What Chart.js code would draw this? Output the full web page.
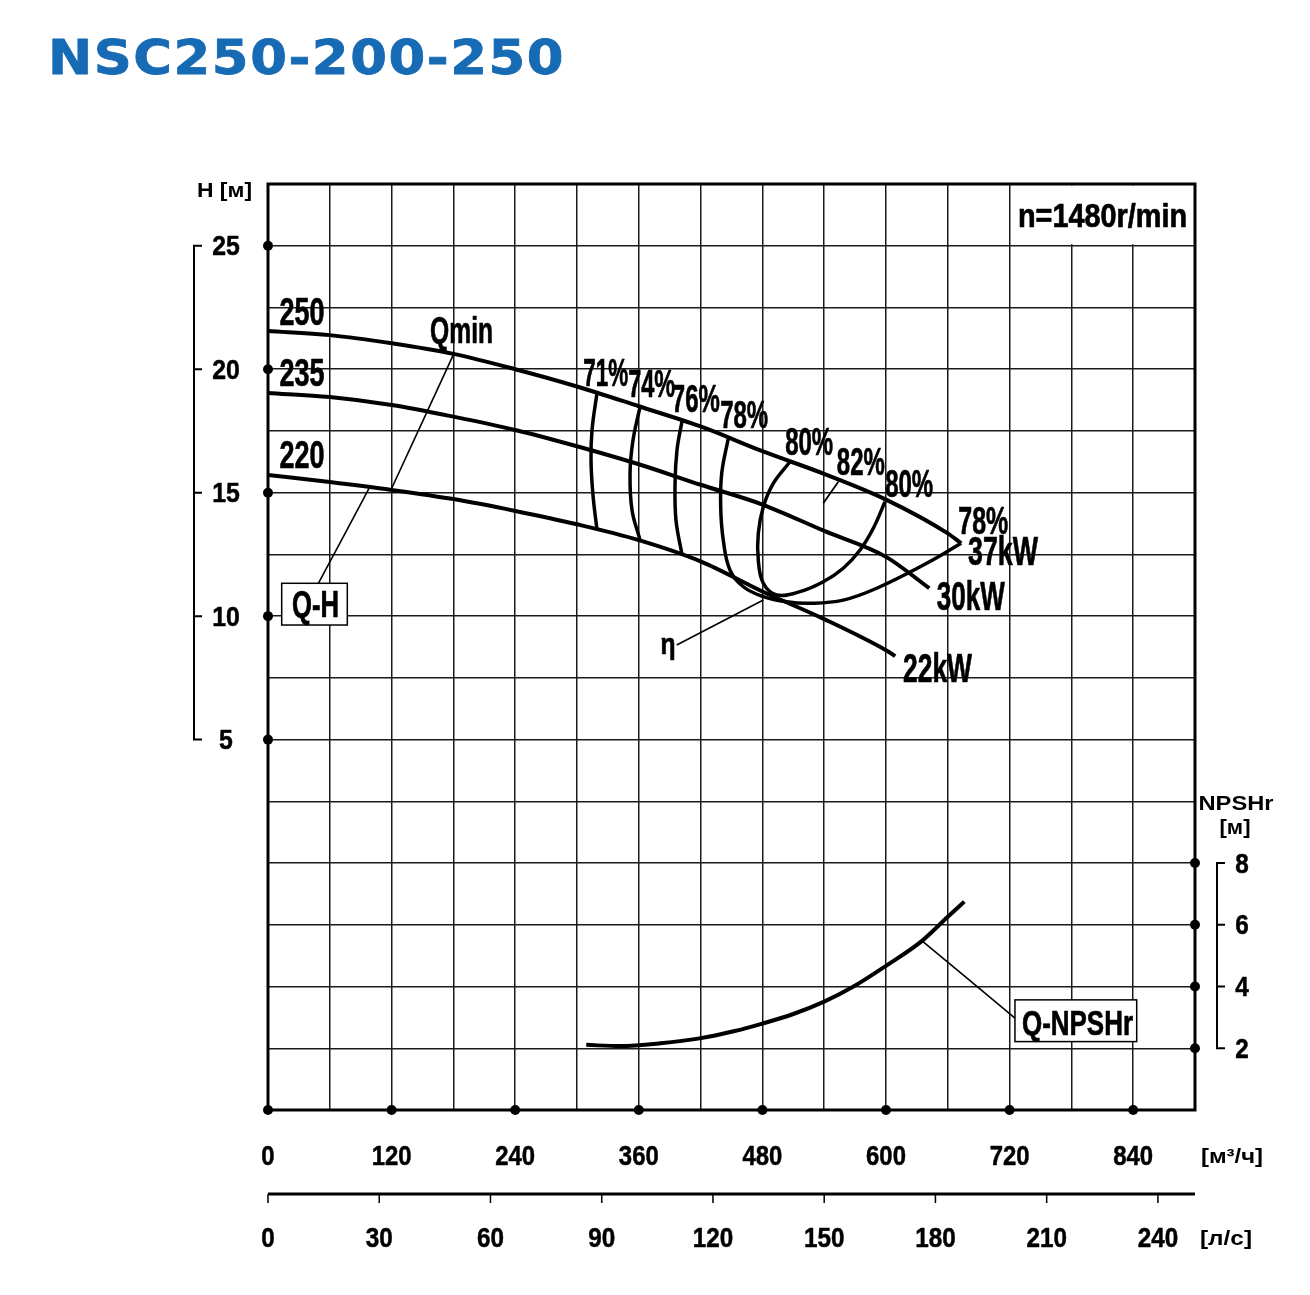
<!DOCTYPE html>
<html>
<head>
<meta charset="utf-8">
<script src="https://cdn.jsdelivr.net/npm/chart.js@4"></script>
<style>
html,body{margin:0;padding:0;background:#fff;}
#wrap{position:relative;width:1310px;height:1295px;overflow:hidden;}
#title{position:absolute;left:48px;top:33px;font-family:"DejaVu Sans",sans-serif;font-weight:bold;font-size:48px;line-height:1;color:#176ab4;letter-spacing:1.4px;white-space:nowrap;transform:scaleX(1.1);transform-origin:0 0;-webkit-text-stroke:0.8px #176ab4;}
canvas{position:absolute;left:0;top:0;}
</style>
</head>
<body>
<div id="wrap">
<div id="title">NSC250-200-250</div>
<canvas id="c" width="1310" height="1295"></canvas>
</div>
<script>
// ---- tick labels ----
const qTicks = [0,120,240,360,480,600,720,840];
const lsTicks = [0,30,60,90,120,150,180,210,240];
const hTicks = [25,20,15,10,5];
const npshTicks = [8,6,4,2];

// ---- Q-H curves (Q m3/h, H m) ----
const q250 = [0,60,120,180,240,300,360,420,480,540,600,660,673];
const h250 = [21.55,21.38,21.05,20.62,20.0,19.3,18.5,17.68,16.68,15.76,14.72,13.35,12.95];
const q235 = [0,60,120,180,240,300,360,420,480,540,600,642];
const h235 = [19.04,18.87,18.55,18.08,17.54,16.88,16.15,15.32,14.52,13.45,12.4,11.13];
const q220 = [0,60,120,180,240,300,360,420,480,540,600,609];
const h220 = [15.72,15.43,15.11,14.74,14.26,13.72,13.08,12.22,11.0,9.88,8.62,8.38];

// ---- iso-efficiency curves ----
const q71 = [319.4,314.6,313.6,315.5,319.4];
const h71 = [19.04,17.54,16.32,14.91,13.5];
const q74 = [361.2,354.4,351.5,353.4,361.2];
const h74 = [18.47,17.13,15.8,14.3,13.08];
const q76 = [401.9,397.1,395.2,396.1,401.9];
const h76 = [17.88,16.73,15.39,13.89,12.5];
const q78 = [446.9,440.5,439.5,442.0,448.5,461.5,480.9,503.6,526.2,558.5,591.0,639.5,673];
const h78 = [17.2,15.78,14.43,13.08,11.87,11.19,10.79,10.58,10.52,10.65,11.13,12.14,12.95];
const q80 = [506.8,490.6,480.9,476.0,476.0,480.9,493.9,516.5,539.1,558.5,574.8,587.7,599.0];
const h80 = [16.25,15.38,14.43,13.35,12.27,11.33,10.86,10.99,11.39,11.94,12.68,13.56,14.63];
const q82 = [553.7,539.1];
const h82 = [15.44,14.57];

// ---- NPSHr curve (Q m3/h, NPSHr m) ----
const qNpsh = [309,342,381,419,452,480,510,540,568,600,635,660,676];
const npsh = [2.11,2.07,2.16,2.32,2.55,2.8,3.11,3.51,3.99,4.67,5.48,6.26,6.75];

// ---- leader lines ----
const qQmin = [179.9,120.1], hQmin = [20.58,15.18];
const qQH = [99.0,48.9], hQH = [15.24,11.33];
const qEta = [396.8,480.9], hEta = [8.83,10.65];
const qNL = [635,725.2], nNL = [5.48,2.98];

// ---- text annotations (centre in data coords) ----
const notes = [
  {t:'250', q:33.0, h:22.36, s:39, w:45},
  {t:'235', q:33.0, h:19.87, s:39, w:45},
  {t:'220', q:33.0, h:16.57, s:39, w:45},
  {t:'Qmin', q:187.9, h:21.59, s:37, w:63},
  {t:'71%', q:327.9, h:19.87, s:39, w:45},
  {t:'74%', q:372.5, h:19.43, s:39, w:47},
  {t:'76%', q:415.4, h:18.85, s:39, w:48},
  {t:'78%', q:462.3, h:18.18, s:39, w:48},
  {t:'80%', q:525.4, h:17.10, s:39, w:48},
  {t:'82%', q:575.6, h:16.29, s:39, w:48},
  {t:'80%', q:622.5, h:15.41, s:39, w:48},
  {t:'78%', q:694.5, h:13.89, s:39, w:50},
  {t:'37kW', q:713.6, h:12.68, s:41, w:70},
  {t:'30kW', q:682.4, h:10.86, s:41, w:68},
  {t:'22kW', q:650.0, h:7.94, s:41, w:69},
  {t:'η', q:388.3, h:8.91, s:30, w:15},
  {t:'n=1480r/min', q:810.2, h:26.24, s:33, w:169},
  {t:'Q-H', q:46.1, h:10.47, s:36, w:47},
  {t:'Q-NPSHr', q:785.9, h:-6.46, s:35, w:111}
];
const boxes = [
  {q1:13.3, q2:77.0, h1:11.33, h2:9.64, border:true},
  {q1:725.2, q2:843.4, h1:-5.54, h2:-7.23, border:true},
  {q1:720, q2:900, h1:27.5, h2:25, border:false}
];

const NARROW = '"Liberation Sans Narrow","Liberation Sans",Arial,sans-serif';
const WIDE = '"Liberation Sans",Arial,sans-serif';

function txt(ctx, s, x, y, size, w, fam, stroke) {
  ctx.save();
  ctx.font = 'bold ' + size + 'px ' + (fam || NARROW);
  const m = ctx.measureText(s).width;
  const sx = w ? w / m : 1;
  ctx.translate(x, y + 0.358 * size);
  ctx.scale(sx, 1);
  ctx.textAlign = 'center';
  ctx.textBaseline = 'alphabetic';
  ctx.fillStyle = '#000';
  ctx.fillText(s, 0, 0);
  if (stroke) {
    ctx.strokeStyle = '#000';
    ctx.lineWidth = stroke;
    ctx.lineJoin = 'round';
    ctx.strokeText(s, 0, 0);
  }
  ctx.restore();
}

const pts = (xs, ys) => xs.map((x, i) => ({x: x, y: ys[i]}));
function ds(xs, ys, width, axis, mono) {
  const d = {data: pts(xs, ys), borderColor: '#000', borderWidth: width, tension: 0.4,
          pointRadius: 0, fill: false, yAxisID: axis || 'y', borderCapStyle: 'butt'};
  if (mono) d.cubicInterpolationMode = 'monotone';
  return d;
}

const datasets = [
  ds(q250, h250, 4, 'y', true), ds(q235, h235, 4, 'y', true), ds(q220, h220, 4, 'y', true),
  ds(q71, h71, 3.5), ds(q74, h74, 3.5), ds(q76, h76, 3.5),
  ds(q78, h78, 3.5), ds(q80, h80, 3.5), ds(q82, h82, 1.8),
  ds(qNpsh, npsh, 4, 'y2', true),
  ds(qQmin, hQmin, 1.6), ds(qQH, hQH, 1.6), ds(qEta, hEta, 1.6),
  ds(qNL, nNL, 1.6, 'y2')
];

const decor = {
  id: 'decor',
  beforeDatasetsDraw(chart) {
    const ctx = chart.ctx, x = chart.scales.x, y = chart.scales.y;
    ctx.save();
    ctx.fillStyle = '#fff';
    boxes.forEach(b => {
      const x1 = x.getPixelForValue(b.q1), x2 = x.getPixelForValue(b.q2);
      const y1 = y.getPixelForValue(b.h1), y2 = y.getPixelForValue(b.h2);
      if (b.border) ctx.fillRect(x1, y1, x2 - x1, y2 - y1);
      else ctx.fillRect(x1 + 1.5, y1 + 1.5, x2 - x1 - 3, y2 - y1 - 3);
    });
    ctx.restore();
  },
  afterDatasetsDraw(chart) {
    const ctx = chart.ctx, a = chart.chartArea;
    const x = chart.scales.x, y = chart.scales.y, y2 = chart.scales.y2;
    ctx.save();
    // boxes borders
    ctx.strokeStyle = '#000'; ctx.lineWidth = 1.5;
    boxes.forEach(b => {
      if (!b.border) return;
      const x1 = x.getPixelForValue(b.q1), x2 = x.getPixelForValue(b.q2);
      const y1 = y.getPixelForValue(b.h1), y2p = y.getPixelForValue(b.h2);
      ctx.strokeRect(x1, y1, x2 - x1, y2p - y1);
    });
    // frame
    ctx.lineWidth = 3;
    ctx.strokeRect(a.left, a.top, a.right - a.left, a.bottom - a.top);
    // dots
    ctx.fillStyle = '#000';
    const dot = (px, py) => { ctx.beginPath(); ctx.arc(px, py, 5, 0, Math.PI * 2); ctx.fill(); };
    hTicks.forEach(v => dot(a.left, y.getPixelForValue(v)));
    qTicks.forEach(v => dot(x.getPixelForValue(v), a.bottom));
    npshTicks.forEach(v => dot(a.right, y2.getPixelForValue(v)));
    // left bracket
    ctx.lineWidth = 2;
    const lbx = a.left - 74;
    ctx.beginPath();
    ctx.moveTo(lbx, y.getPixelForValue(hTicks[0]));
    ctx.lineTo(lbx, y.getPixelForValue(hTicks[hTicks.length - 1]));
    hTicks.forEach(v => { const p = y.getPixelForValue(v); ctx.moveTo(lbx - 1, p); ctx.lineTo(lbx + 8, p); });
    ctx.stroke();
    hTicks.forEach(v => txt(ctx, String(v), a.left - 42, y.getPixelForValue(v), 27, 13.8 * String(v).length, null, 0.5));
    // right bracket
    const rbx = a.right + 22;
    ctx.beginPath();
    ctx.moveTo(rbx, y2.getPixelForValue(npshTicks[0]));
    ctx.lineTo(rbx, y2.getPixelForValue(npshTicks[npshTicks.length - 1]));
    npshTicks.forEach(v => { const p = y2.getPixelForValue(v); ctx.moveTo(rbx - 1, p); ctx.lineTo(rbx + 8, p); });
    ctx.stroke();
    npshTicks.forEach(v => txt(ctx, String(v), a.right + 47, y2.getPixelForValue(v), 27, 13.5, null, 0.5));
    // bottom Q labels
    qTicks.forEach(v => txt(ctx, String(v), x.getPixelForValue(v), a.bottom + 45, 28, 13.3 * String(v).length, null, 0.5));
    // l/s axis
    const ly = a.bottom + 84;
    ctx.lineWidth = 3;
    ctx.beginPath(); ctx.moveTo(a.left, ly); ctx.lineTo(a.right, ly); ctx.stroke();
    ctx.lineWidth = 1.5;
    ctx.beginPath();
    lsTicks.forEach(v => { const p = x.getPixelForValue(v * 3.6); ctx.moveTo(p, ly); ctx.lineTo(p, ly + 9); });
    ctx.stroke();
    lsTicks.forEach(v => txt(ctx, String(v), x.getPixelForValue(v * 3.6), a.bottom + 127, 28, 13.5 * String(v).length, null, 0.5));
    // axis titles / units
    txt(ctx, 'H [м]', a.left - 43.5, a.top + 5.5, 21, 55, WIDE);
    txt(ctx, 'NPSHr', a.right + 41, 802.5, 21, 75, WIDE);
    txt(ctx, '[м]', a.right + 40, 826, 21, 31, WIDE);
    txt(ctx, '[м³/ч]', a.right + 37, a.bottom + 45, 21, 62, WIDE);
    txt(ctx, '[л/с]', a.right + 31, a.bottom + 127, 21, 52, WIDE);
    // annotations
    notes.forEach(n => txt(ctx, n.t, x.getPixelForValue(n.q), y.getPixelForValue(n.h), n.s, n.w, null, 0.7));
    ctx.restore();
  }
};

const gridOpts = {color: '#1a1a1a', lineWidth: 1.5, drawTicks: false};
new Chart(document.getElementById('c').getContext('2d'), {
  type: 'line',
  data: {datasets: datasets},
  options: {
    responsive: false,
    animation: false,
    devicePixelRatio: 1,
    layout: {padding: {top: 184, left: 0, right: 0, bottom: 0}},
    plugins: {legend: {display: false}, tooltip: {enabled: false}},
    elements: {point: {radius: 0}},
    scales: {
      x: {type: 'linear', position: 'bottom', min: 0, max: 900,
          ticks: {display: false, stepSize: 60, maxTicksLimit: 100},
          grid: gridOpts, border: {display: false},
          afterFit(s) { s.height = 185; }},
      y: {type: 'linear', position: 'left', min: -10, max: 27.5,
          ticks: {display: false, stepSize: 2.5, maxTicksLimit: 100},
          grid: gridOpts, border: {display: false},
          afterFit(s) { s.width = 268; }},
      y2: {type: 'linear', position: 'right', min: 0, max: 30,
           ticks: {display: false, stepSize: 2},
           grid: {display: false}, border: {display: false},
           afterFit(s) { s.width = 115; }}
    }
  },
  plugins: [decor]
});
</script>
</body>
</html>
